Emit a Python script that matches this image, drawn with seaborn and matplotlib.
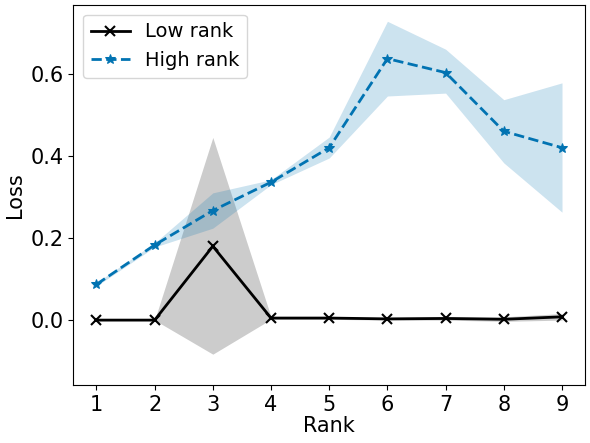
import seaborn as sb
import matplotlib.pyplot as plt
import pandas as pd

ranks = [1, 2, 3, 4, 5, 6, 7, 8, 9]

low_mean = [0.0, 0.0, 0.18, 0.005, 0.005, 0.003, 0.004, 0.002, 0.008]
low_lower = [0.0, 0.0, -0.083, 0.002, 0.002, 0.0, 0.0, -0.003, 0.0]
low_upper = [0.0, 0.0, 0.445, 0.008, 0.008, 0.006, 0.009, 0.008, 0.016]

high_mean = [0.087, 0.183, 0.267, 0.336, 0.42, 0.637, 0.603, 0.46, 0.42]
high_lower = [0.083, 0.178, 0.224, 0.33, 0.395, 0.546, 0.553, 0.383, 0.263]
high_upper = [0.091, 0.188, 0.31, 0.342, 0.446, 0.728, 0.66, 0.537, 0.578]

df = pd.DataFrame({"Rank": ranks, "low": low_mean, "high": high_mean})

blue = "#0173b2"

fig, ax = plt.subplots(figsize=(5.9, 4.43), dpi=100)

sb.lineplot(x="Rank", y="low", data=df, color="black", marker="x", markersize=6.5,
            markeredgecolor="black", markeredgewidth=1.5, linewidth=2, label="Low rank", ax=ax)
ax.fill_between(ranks, low_lower, low_upper, color="black", alpha=0.2, linewidth=0)

sb.lineplot(x="Rank", y="high", data=df, color=blue, marker="*", markersize=7.5,
            markeredgecolor=blue, linestyle="--", linewidth=2, label="High rank", ax=ax)
ax.fill_between(ranks, high_lower, high_upper, color=blue, alpha=0.2, linewidth=0)

ax.set_xlim(0.6, 9.4)
ax.set_ylim(-0.158, 0.768)
ax.set_xticks(ranks)
ax.set_yticks([0.0, 0.2, 0.4, 0.6])
ax.set_xlabel("Rank", fontsize=15, labelpad=1)
ax.set_ylabel("Loss", fontsize=15)
ax.tick_params(labelsize=15)
ax.legend(loc="upper left", fontsize=14)

plt.subplots_adjust(left=0.124, right=0.992, top=0.989, bottom=0.131)
plt.savefig("out.png", dpi=100)
